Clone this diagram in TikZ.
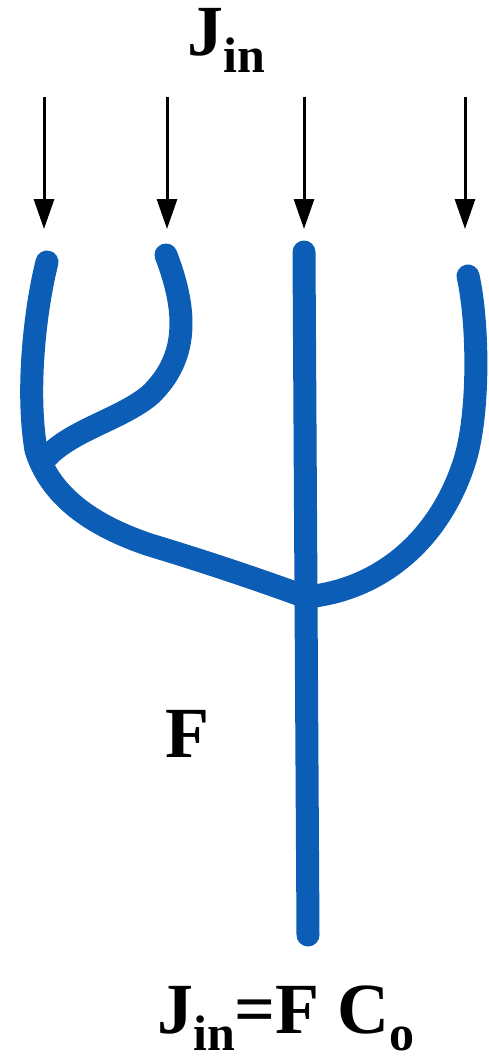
\documentclass[tikz,border=0pt]{standalone}
\usepackage{fontspec}
\setmainfont{Liberation Serif}
\usetikzlibrary{arrows.meta}
\definecolor{vessel}{RGB}{12,93,181}
\tikzset{
  flux/.style={line width=3pt, -{Triangle[length=30pt,width=20pt]}},
  vesselline/.style={draw=vessel, line width=23pt, line cap=round, line join=round},
  lbl/.style={inner sep=0pt, anchor=base west, font=\bfseries\fontsize{72}{80}\selectfont},
}
\newcommand{\subtxt}[1]{\raisebox{-17pt}{\fontsize{50}{50}\selectfont #1}}
\begin{document}
\begin{tikzpicture}[x=1pt,y=-1pt]
\useasboundingbox (0,0) rectangle (489,1062);
% arrows
\foreach \i/\x in {a/44,b/167,c/304,d/465}{
  \coordinate (s\i) at (\x,97);
  \coordinate (e\i) at (\x,229);
  \draw[flux] (s\i) -- (e\i);
}
% vessels
\coordinate (junc) at (306,597);
\draw[vesselline] (47,262) .. controls (35,310) and (26,390) .. (36,450)
  .. controls (50,495) and (90,525) .. (150,545)
  .. controls (200,560) and (260,580) .. (junc);
\draw[vesselline] (junc) .. controls (380,590) and (440,540) .. (465,460)
  .. controls (480,410) and (478,320) .. (468,276);
\draw[vesselline] (166,255) .. controls (185,305) and (192,355) .. (150,395)
  .. controls (120,420) and (70,430) .. (44,460);
\draw[vesselline] (304,252) -- (junc) -- (308,935);
% labels
\node[lbl] (jin) at (187,56) {J\subtxt{in}};
\node[lbl] (f) at (165,757) {F};
\node[lbl] (eq) at (157,1033) {J\subtxt{in}=F C\subtxt{o}};
\end{tikzpicture}
\end{document}
